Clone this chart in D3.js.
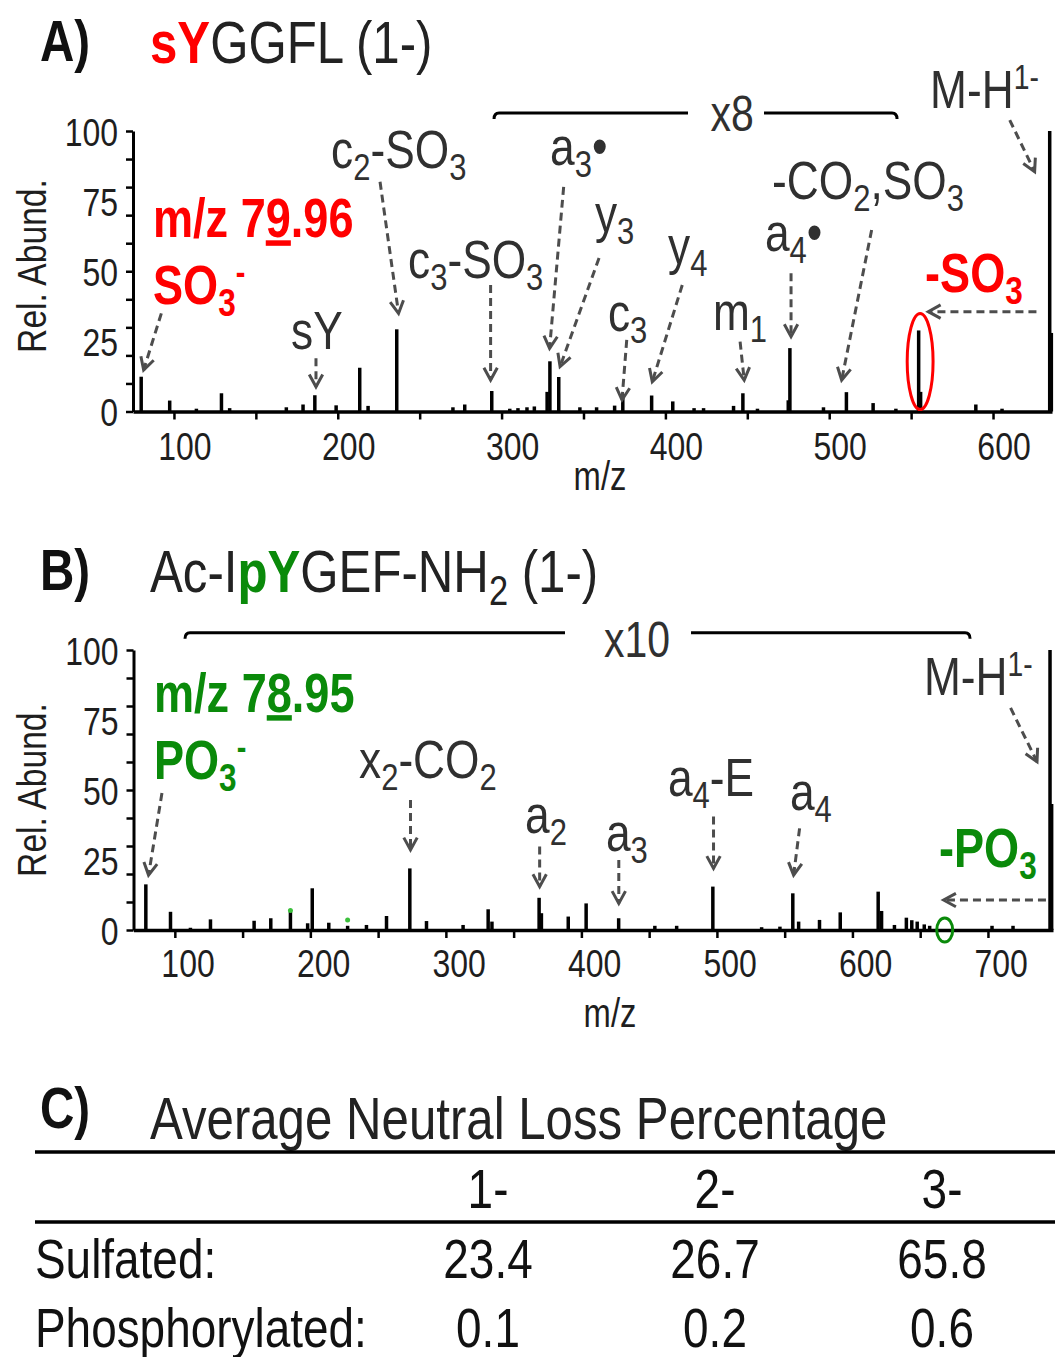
<!DOCTYPE html>
<html><head><meta charset="utf-8">
<script src="https://cdn.jsdelivr.net/npm/d3@7"></script>
<style>
body{margin:0;background:#fff}
svg{display:block}
text{font-family:"Liberation Sans",Arial,Helvetica,sans-serif}
</style>
</head><body>
<svg id="chart" width="1055" height="1357"></svg>
<script>
// ---------------- DATA ----------------
// Panel A: sYGGFL (1-) spectrum (displayed relative abundance; 296-541 region shown x8)
const peaksA_mz = [80,97.4,113.7,129,134,168.6,178.8,186,199,213.4,218.5,236,270.3,277.5,294,305,310,315.5,320,
  327.8,329.5,334.9,347.8,358,369,374,391.6,404.5,417.5,423.3,441.6,447.3,456.2,475,476,496.5,510.5,526.8,540.7,
  554.6,555.8,589.5,605.5,634.6,635.6];
const peaksA_ab = [12.4,3.9,1.0,6.5,1.2,1.5,2.5,5.8,2.2,15.6,2.0,29.3,1.5,2.5,7.3,1.0,1.2,1.5,1.8,
  7.0,17.9,12.3,1.5,1.5,2.1,6.3,5.7,3.6,1.2,1.2,2.0,6.5,1.0,4.0,22.6,1.5,6.9,3.0,1.0,
  28.9,7.0,2.5,1.0,100,28];
// Panel B: Ac-IpYGEF-NH2 (1-) spectrum (107-687 region shown x10)
const peaksB_mz = [78.6,96.8,111.5,126.3,158.5,170.8,185.3,198,201.4,213.6,227.5,241.4,256.2,273.4,285.7,312.7,331.2,334,
  368.8,370.5,390.3,403.5,427.5,454.2,470.3,497,533,546.5,556,560.3,575.7,591,619,621.5,631,639.8,643.8,647.8,653,657,
  703,718.5,745.8,747];
const peaksB_ab = [16.3,6.5,0.8,3.8,3.3,4.2,6.5,2.4,14.9,2.6,1.5,1.8,5.0,22.0,3.2,1.8,7.4,3.0,
  11.5,6.0,4.8,9.5,4.2,1.5,1.5,15.5,1.0,1.2,13.1,3.0,3.6,6.3,13.7,6.8,1.8,4.4,3.5,3.0,2.0,1.5,
  1.5,1.5,100,45];
const greenDotsB_mz = [185.3, 227.5];
const greenDotsB_ab = [7.0, 3.6];

const xTicksA = [100,150,200,250,300,350,400,450,500,550,600];
const xTicksB = [100,150,200,250,300,350,400,450,500,550,600,650,700];
const yTicks = [0,10,20,30,40,50,60,70,80,90,100];
const yTickLabels = [0,25,50,75,100];

// Panel C table
const tableTitle = "Average Neutral Loss Percentage";
const chargeStates = ["1-","2-","3-"];
const rowLabels = ["Sulfated:","Phosphorylated:"];
const sulfatedLoss = [23.4,26.7,65.8];
const phosphorylatedLoss = [0.1,0.2,0.6];

// ---------------- STYLE / LAYOUT ----------------
const RED = "#ff0000", GREEN = "#0a8a0a", INK = "#1e1e1e", ANN = "#303030", ARROW = "#4d4d4d";
const SX = 0.82; // narrow font
const svg = d3.select("#chart");

function rich(parent, x, y, parts, o = {}) {
  const size = o.size || 54;
  const g = parent.append("g").attr("transform",
    o.rotate ? `translate(${x},${y}) rotate(-90) scale(${SX},1)` : `translate(${x},${y}) scale(${SX},1)`);
  const t = g.append("text").attr("font-size", size).attr("fill", o.fill || ANN)
    .attr("font-weight", o.weight || "normal").attr("text-anchor", o.anchor || "start");
  let cur = 0;
  parts.forEach(p => {
    const s = typeof p === "string" ? {t: p} : p;
    let shift = 0, fs = null;
    if (s.sub) { shift = 0.22 * size; fs = 0.7 * size; }
    if (s.sup) { shift = -0.36 * size; fs = 0.64 * size; }
    const ts = t.append("tspan").text(s.t).attr("dy", shift - cur);
    cur = shift;
    if (fs) ts.attr("font-size", fs);
    if (s.fill) ts.attr("fill", s.fill);
    if (s.weight) ts.attr("font-weight", s.weight);
    if (s.u) ts.style("text-decoration", "underline");
  });
  return g;
}

function arrow(parent, x0, y0, x1, y1) {
  const g = parent.append("g").attr("stroke", ARROW).attr("stroke-width", 3).attr("fill", "none");
  g.append("line").attr("x1", x0).attr("y1", y0).attr("x2", x1).attr("y2", y1)
    .attr("stroke-dasharray", "8,5");
  const a = Math.atan2(y1 - y0, x1 - x0), L = 14, w = 0.5;
  g.append("path").attr("stroke-linejoin", "miter")
    .attr("d", `M${x1 - L * Math.cos(a - w)},${y1 - L * Math.sin(a - w)} L${x1},${y1} L${x1 - L * Math.cos(a + w)},${y1 - L * Math.sin(a + w)}`);
}

function panel(cfg) {
  const {x, y, mz, ab} = cfg;
  const g = svg.append("g");
  // peaks
  g.append("g").selectAll("line").data(mz.map((m, i) => [m, ab[i]])).join("line")
    .attr("x1", d => x(d[0])).attr("x2", d => x(d[0]))
    .attr("y1", y(0)).attr("y2", d => y(d[1]))
    .attr("stroke", "#000").attr("stroke-width", 3.5);
  // x axis
  const xa = g.append("g").attr("transform", `translate(0,${y(0)})`)
    .call(d3.axisBottom(x).tickValues(cfg.xTicks).tickFormat(d => d % 100 === 0 ? d : "")
      .tickSize(8).tickSizeOuter(0).tickPadding(6));
  xa.select(".domain").attr("stroke-width", 3.5).attr("stroke", "#000");
  xa.selectAll(".tick line").attr("stroke-width", 2.5).attr("stroke", "#000");
  xa.selectAll(".tick text").attr("font-size", 39).attr("fill", INK)
    .attr("font-family", "Liberation Sans, Arial, sans-serif")
    .attr("y", null).attr("dy", null)
    .attr("transform", `translate(${cfg.labelDx},${cfg.xLabelBase}) scale(${SX},1)`);
  // y axis ticks
  const ya = g.append("g").attr("transform", `translate(${x.range()[0]},0)`)
    .call(d3.axisLeft(y).tickValues(yTicks).tickFormat("").tickSize(7).tickSizeOuter(0));
  ya.select(".domain").attr("stroke-width", 3).attr("stroke", "#000");
  ya.selectAll(".tick line").attr("stroke-width", 2.5).attr("stroke", "#000");
  const yl = g.append("g").attr("transform", `translate(${x.range()[0]},0)`)
    .call(d3.axisLeft(y).tickValues(yTickLabels).tickSize(0));
  yl.select(".domain").remove();
  yl.selectAll(".tick text").attr("font-size", 39).attr("fill", INK)
    .attr("font-family", "Liberation Sans, Arial, sans-serif")
    .attr("x", null).attr("dy", "0.36em")
    .attr("transform", `translate(-15,0) scale(${SX},1)`);
  // axis titles
  rich(g, cfg.mzPos[0], cfg.mzPos[1], ["m/z"], {size: 40, anchor: "middle", fill: INK});
  rich(g, 46, cfg.relY, ["Rel. Abund."], {size: 41, anchor: "middle", fill: INK, rotate: true});
  return g;
}

function bracket(g, x, y, a, b, c, d, lev) {
  const yy = y(lev);
  g.append("path").attr("fill", "none").attr("stroke", "#000").attr("stroke-width", 3)
    .attr("d", `M${x(a)},${yy + 6} Q${x(a)},${yy} ${x(a) + 5},${yy} L${x(b)},${yy}`);
  g.append("path").attr("fill", "none").attr("stroke", "#000").attr("stroke-width", 3)
    .attr("d", `M${x(c)},${yy} L${x(d) - 5},${yy} Q${x(d)},${yy} ${x(d)},${yy + 6}`);
}

function drawAnn(g, x, y, list) {
  list.forEach(a => {
    if (a.bold) rich(g, x(a.at[0]), y(a.at[1]), a.parts, {size: 55, weight: "bold", fill: a.bold});
    else rich(g, x(a.at[0]), y(a.at[1]), a.parts, {size: 54});
    if (a.from) arrow(g, x(a.from[0]), y(a.from[1]), x(a.to[0]), y(a.to[1]));
  });
}

// ---------------- PANEL A ----------------
const xA = d3.scaleLinear().domain([75, 636]).range([133, 1052]);
const yA = d3.scaleLinear().domain([0, 100]).range([411.5, 131]);
const gA = panel({x: xA, y: yA, mz: peaksA_mz, ab: peaksA_ab, xTicks: xTicksA, labelDx: 10.5, xLabelBase: 48,
  mzPos: [600, 490], relY: 266});

rich(svg, 40, 61, ["A)"], {size: 58, weight: "bold", fill: "#111"});
rich(svg, 150, 63, [{t: "sY", fill: RED, weight: "bold"}, "GGFL (1-)"], {size: 60, fill: "#222"});

bracket(gA, xA, yA, 295.4, 413.8, 460.2, 541.4, 106.4);
rich(gA, xA(440.7), yA(99.9), ["x8"], {size: 50, anchor: "middle"});

const annA = [
  {parts: ["m/z 7", {t: "9", u: true}, ".96"], at: [87.2, 62.2], bold: RED},
  {parts: ["SO", {t: "3", sub: true}, {t: "-", sup: true}], at: [87.2, 38.3], bold: RED, from: [92.3, 35], to: [81.5, 14.8]},
  {parts: ["sY"], at: [171.5, 22.3], from: [186.7, 19], to: [186.7, 8.8]},
  {parts: ["c", {t: "2", sub: true}, "-SO", {t: "3", sub: true}], at: [195.9, 86.8], from: [225.8, 81.9], to: [237.1, 35]},
  {parts: ["c", {t: "3", sub: true}, "-SO", {t: "3", sub: true}], at: [242.9, 47.6], from: [293.3, 45.1], to: [293.3, 11.2]},
  {parts: ["a", {t: "3", sub: true}, "•"], at: [329.6, 87.9], from: [337.9, 80.1], to: [329.3, 22.5]},
  {parts: ["y", {t: "3", sub: true}], at: [357, 64], from: [359.5, 54.7], to: [335.7, 16]},
  {parts: ["y", {t: "4", sub: true}], at: [401.6, 52.6], from: [410.3, 45.1], to: [392, 10.6]},
  {parts: ["c", {t: "3", sub: true}], at: [364.9, 28.7], from: [376.4, 25.5], to: [373.5, 4.1]},
  {parts: ["m", {t: "1", sub: true}], at: [429, 29], from: [445.6, 24.9], to: [448.1, 11.2]},
  {parts: ["a", {t: "4", sub: true}, "•"], at: [460.8, 57.3], from: [476.7, 49.3], to: [476.7, 26.7]},
  {parts: ["-CO", {t: "2", sub: true}, ",SO", {t: "3", sub: true}], at: [465.1, 75.6], from: [525.9, 64.7], to: [507.6, 11.2]},
  {parts: ["-SO", {t: "3", sub: true}], at: [558.5, 42.6], bold: RED, from: [626.5, 35.6], to: [560.5, 35.6]},
  {parts: ["M-H", {t: "1-", sup: true}], at: [561.6, 108.2], from: [610.2, 103.9], to: [625.4, 85.5]}
];
drawAnn(gA, xA, yA, annA);

gA.append("ellipse").attr("cx", xA(555.5)).attr("cy", yA(17.8))
  .attr("rx", xA(555.5 + 7.9) - xA(555.5)).attr("ry", yA(0) - yA(17.1))
  .attr("fill", "none").attr("stroke", RED).attr("stroke-width", 3);

// ---------------- PANEL B ----------------
const xB = d3.scaleLinear().domain([69.5, 748]).range([133.5, 1053]);
const yB = d3.scaleLinear().domain([0, 100]).range([930, 650]);
const gB = panel({x: xB, y: yB, mz: peaksB_mz, ab: peaksB_ab, xTicks: xTicksB, labelDx: 12.7, xLabelBase: 47,
  mzPos: [610, 1027], relY: 790});

rich(svg, 40, 590, ["B)"], {size: 58, weight: "bold", fill: "#111"});
rich(svg, 150, 592, ["Ac-I", {t: "pY", fill: GREEN, weight: "bold"}, "GEF-NH", {t: "2", sub: true}, " (1-)"], {size: 60, fill: "#222"});

bracket(gB, xB, yB, 107.5, 387.9, 480.9, 686.8, 106.2);
rich(gB, xB(441), yB(97.5), ["x10"], {size: 50, anchor: "middle"});

const annB = [
  {parts: ["m/z 7", {t: "8", u: true}, ".95"], at: [84.6, 77.9], bold: GREEN},
  {parts: ["PO", {t: "3", sub: true}, {t: "-", sup: true}], at: [84.6, 53.9], bold: GREEN, from: [90.5, 48.9], to: [80.6, 19.6]},
  {parts: ["x", {t: "2", sub: true}, "-CO", {t: "2", sub: true}], at: [235.9, 54.3], from: [273.9, 46.4], to: [273.9, 28.6]},
  {parts: ["a", {t: "2", sub: true}], at: [358.4, 34.6], from: [369.2, 29.8], to: [369.2, 15.5]},
  {parts: ["a", {t: "3", sub: true}], at: [418.1, 28.2], from: [427.6, 25], to: [427.6, 9.5]},
  {parts: ["a", {t: "4", sub: true}, "-E"], at: [463.9, 47.9], from: [497.5, 40.5], to: [497.5, 22]},
  {parts: ["a", {t: "4", sub: true}], at: [553.9, 42.9], from: [561, 36.3], to: [556.6, 19.6]},
  {parts: ["-PO", {t: "3", sub: true}], at: [663.9, 22.5], bold: GREEN, from: [742.8, 10.7], to: [667.3, 10.7]},
  {parts: ["M-H", {t: "1-", sup: true}], at: [652.8, 83.9], from: [716.7, 79.3], to: [736.2, 60.1]}
];
drawAnn(gB, xB, yB, annB);

gB.append("ellipse").attr("cx", xB(668.1)).attr("cy", yB(0))
  .attr("rx", xB(668.1 + 5.9) - xB(668.1)).attr("ry", yB(0) - yB(4.3))
  .attr("fill", "none").attr("stroke", GREEN).attr("stroke-width", 3);
gB.append("g").selectAll("circle").data(greenDotsB_mz.map((m, i) => [m, greenDotsB_ab[i]])).join("circle")
  .attr("cx", d => xB(d[0])).attr("cy", d => yB(d[1])).attr("r", 2.5).attr("fill", "#3cc03c");

// ---------------- PANEL C (table) ----------------
const gC = svg.append("g");
rich(gC, 40, 1128, ["C)"], {size: 58, weight: "bold", fill: "#111"});
rich(gC, 150, 1139, [tableTitle], {size: 60, fill: "#222"});
const colX = d3.scalePoint().domain(chargeStates).range([488, 942]);
const rowY = d3.scalePoint().domain(["head", ...rowLabels]).range([1208, 1347]);
gC.append("line").attr("x1", 35).attr("x2", 1055).attr("y1", 1152).attr("y2", 1152).attr("stroke", "#000").attr("stroke-width", 3.5);
gC.append("line").attr("x1", 35).attr("x2", 1055).attr("y1", 1222).attr("y2", 1222).attr("stroke", "#000").attr("stroke-width", 3.5);
chargeStates.forEach(c => rich(gC, colX(c), rowY("head"), [c], {size: 56, anchor: "middle", fill: "#111"}));
const rows = [sulfatedLoss, phosphorylatedLoss];
rowLabels.forEach((r, i) => {
  rich(gC, 35, rowY(r), [r], {size: 56, fill: "#111"});
  rows[i].forEach((v, j) => rich(gC, colX(chargeStates[j]), rowY(r), [v.toFixed(1)], {size: 56, anchor: "middle", fill: "#111"}));
});
</script>
</body></html>
